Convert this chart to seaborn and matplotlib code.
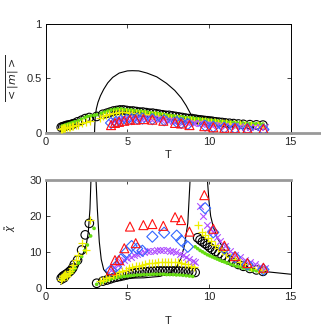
import numpy as np
import matplotlib
matplotlib.use("Agg")
import matplotlib.pyplot as plt
import seaborn as sns

# --- temperature grids ---
T_black = [0.95, 1.05, 1.15, 1.25, 1.35, 1.45, 1.55, 1.65, 1.75, 1.95, 2.2, 2.42, 2.67,
           3.12, 3.5, 3.75, 3.95, 4.15, 4.35, 4.55, 4.75, 4.95, 5.15, 5.35, 5.55, 5.75, 5.95,
           6.15, 6.35, 6.55, 6.75, 6.95, 7.15, 7.35, 7.55, 7.75, 7.95, 8.15, 8.35, 8.55, 8.75,
           8.95, 9.15,
           9.3, 9.45, 9.6, 9.75, 9.9, 10.05, 10.2, 10.4, 10.6, 10.8, 11.0, 11.25, 11.5, 11.8,
           12.1, 12.5, 12.9, 13.3]
chi_black = [2.8, 3.3, 3.6, 3.9, 4.2, 4.6, 5.0, 5.6, 6.6, 7.8, 10.6, 14.8, 18.0,
             1.4, 2.0, 2.3, 2.6, 2.9, 3.1, 3.3, 3.5, 3.7, 3.9, 4.1, 4.3, 4.4, 4.5,
             4.6, 4.7, 4.7, 4.8, 4.8, 4.8, 4.8, 4.8, 4.8, 4.8, 4.8, 4.7, 4.7, 4.6,
             4.5, 4.4,
             14.0, 13.4, 12.9, 12.4, 11.9, 11.3, 10.8, 10.2, 9.6, 9.0, 8.4, 7.8, 7.2, 6.6,
             6.1, 5.5, 5.1, 4.7]
m_black = [0.05, 0.055, 0.06, 0.065, 0.07, 0.07, 0.075, 0.08, 0.085, 0.1, 0.115, 0.13, 0.14,
           0.15, 0.17, 0.18, 0.19, 0.2, 0.205, 0.21, 0.21, 0.205, 0.2, 0.2, 0.195, 0.19, 0.19,
           0.185, 0.18, 0.18, 0.175, 0.17, 0.165, 0.16, 0.16, 0.155, 0.15, 0.145, 0.14, 0.135, 0.13,
           0.13, 0.125,
           0.12, 0.118, 0.115, 0.112, 0.11, 0.107, 0.105, 0.1, 0.097, 0.094, 0.09, 0.087, 0.084, 0.08,
           0.077, 0.074, 0.072, 0.07]

T_green = [1.0, 1.1, 1.2, 1.3, 1.4, 1.5, 1.6, 1.7, 1.8, 2.0, 2.2, 2.4, 2.55, 2.75, 2.96,
           3.12, 3.4, 3.6, 3.8, 4.0, 4.2, 4.4, 4.6, 4.8, 5.0, 5.2, 5.4, 5.6, 5.8, 6.0, 6.2,
           6.4, 6.6, 6.8, 7.0, 7.2, 7.4, 7.6, 7.8, 8.0, 8.2, 8.4, 8.6, 8.8, 9.0,
           9.15, 9.3, 9.45, 9.6, 9.75, 9.9, 10.05, 10.2, 10.35, 10.5, 10.65, 10.8, 10.95, 11.1,
           11.3, 11.5, 11.7, 11.9, 12.1, 12.3, 12.5, 12.7, 12.9, 13.1, 13.3]
chi_green = [2.5, 2.8, 3.1, 3.4, 3.7, 4.1, 4.5, 5.0, 5.6, 7.0, 8.8, 10.5, 12.0, 14.5, 16.6,
             1.1, 1.6, 2.0, 2.3, 2.6, 2.8, 3.0, 3.2, 3.3, 3.4, 3.5, 3.6, 3.7, 3.7, 3.8, 3.8,
             3.8, 3.9, 3.9, 3.9, 3.9, 3.8, 3.8, 3.8, 3.7, 3.7, 3.6, 3.5, 3.4, 3.3,
             11.5, 11.0, 10.5, 10.1, 9.7, 9.3, 9.0, 8.7, 8.4, 8.1, 7.8, 7.5, 7.3, 7.0,
             6.7, 6.4, 6.1, 5.9, 5.6, 5.4, 5.2, 5.0, 4.85, 4.7, 4.6]
m_green = [0.06, 0.065, 0.07, 0.075, 0.08, 0.085, 0.09, 0.095, 0.1, 0.11, 0.125, 0.14, 0.15, 0.155, 0.16,
           0.165, 0.18, 0.19, 0.2, 0.21, 0.215, 0.22, 0.22, 0.215, 0.21, 0.21, 0.205, 0.2, 0.2, 0.195, 0.19,
           0.185, 0.18, 0.18, 0.175, 0.17, 0.165, 0.16, 0.155, 0.15, 0.148, 0.145, 0.14, 0.137, 0.135,
           0.13, 0.128, 0.125, 0.122, 0.12, 0.117, 0.114, 0.112, 0.11, 0.107, 0.105, 0.102, 0.1, 0.098,
           0.096, 0.094, 0.092, 0.09, 0.088, 0.086, 0.084, 0.083, 0.082, 0.081, 0.08]

T_yellow = [0.95, 1.0, 1.05, 1.1, 1.15, 1.2, 1.3, 1.4, 1.5, 1.6, 1.7, 1.85, 2.0, 2.2, 2.45, 2.7,
            3.3, 3.5, 3.7, 3.9, 4.1, 4.3, 4.5, 4.7, 4.9, 5.1, 5.3, 5.5, 5.7, 5.9, 6.1, 6.3,
            6.5, 6.7, 6.9, 7.1, 7.3, 7.5, 7.7, 7.9, 8.1, 8.3, 8.5, 8.7, 8.9, 9.1,
            9.35, 9.55, 9.75, 9.95, 10.15, 10.35, 10.55, 10.8, 11.05, 11.3, 11.6, 11.9, 12.2,
            12.6, 13.0, 13.3]
chi_yellow = [2.2, 2.8, 3.3, 3.0, 3.6, 4.0, 3.5, 4.2, 4.8, 5.5, 6.4, 7.8, 9.2, 12.5, 10.6, 19.0,
              2.0, 2.4, 2.8, 3.2, 3.6, 4.0, 4.4, 4.8, 5.2, 5.5, 5.8, 6.1, 6.3, 6.5, 6.7, 6.9,
              7.0, 7.1, 7.2, 7.3, 7.4, 7.4, 7.4, 7.3, 7.2, 7.0, 6.8, 6.6, 6.3, 6.0,
              17.6, 15.7, 14.8, 13.9, 13.0, 12.1, 11.3, 10.4, 9.6, 8.8, 8.0, 7.3, 6.7,
              6.0, 5.4, 5.0]
m_yellow = [0.03, 0.035, 0.04, 0.04, 0.045, 0.045, 0.05, 0.05, 0.055, 0.06, 0.065, 0.07, 0.075, 0.085, 0.095, 0.11,
            0.14, 0.15, 0.16, 0.17, 0.18, 0.185, 0.19, 0.19, 0.19, 0.185, 0.18, 0.18, 0.175, 0.17, 0.17, 0.165,
            0.16, 0.16, 0.155, 0.15, 0.145, 0.14, 0.14, 0.135, 0.13, 0.125, 0.12, 0.118, 0.115, 0.112,
            0.11, 0.107, 0.104, 0.1, 0.097, 0.094, 0.091, 0.088, 0.085, 0.082, 0.079, 0.076, 0.073,
            0.07, 0.067, 0.065]

T_purple = [4.0, 4.2, 4.4, 4.6, 4.8, 5.0, 5.2, 5.4, 5.6, 5.8, 6.0, 6.2, 6.4, 6.6, 6.8, 7.0,
            7.2, 7.4, 7.6, 7.8, 8.0, 8.2, 8.4, 8.6, 8.8, 9.0, 9.15,
            9.45, 9.65, 9.85, 10.05, 10.27, 10.5, 10.7, 10.95, 11.3, 11.6, 11.9, 12.2, 12.5,
            12.8, 13.1, 13.4]
chi_purple = [5.2, 5.8, 6.5, 7.2, 7.9, 8.4, 8.8, 9.2, 9.5, 9.8, 10.0, 10.2, 10.3, 10.4, 10.5, 10.5,
              10.6, 10.5, 10.4, 10.2, 10.0, 9.6, 9.2, 8.7, 8.2, 7.6, 7.2,
              22.9, 20.0, 17.5, 16.8, 15.5, 14.2, 13.0, 11.8, 10.4, 9.3, 8.6, 7.9, 7.3,
              6.7, 6.1, 5.6]
m_purple = [0.1, 0.11, 0.12, 0.125, 0.13, 0.135, 0.138, 0.14, 0.14, 0.14, 0.14, 0.138, 0.135, 0.132, 0.13, 0.127,
            0.124, 0.12, 0.116, 0.112, 0.108, 0.104, 0.1, 0.096, 0.092, 0.09, 0.088,
            0.085, 0.082, 0.079, 0.076, 0.073, 0.07, 0.068, 0.066, 0.063, 0.06, 0.058, 0.056, 0.054,
            0.052, 0.05, 0.05]

T_blue = [4.0, 4.3, 4.6, 4.95, 5.26, 5.6, 5.92, 6.53, 7.25, 8.02, 8.3, 8.7,
          9.76, 10.26, 10.94, 11.59, 12.35, 13.33]
chi_blue = [5.0, 6.0, 8.0, 10.0, 11.7, 11.0, 10.4, 14.3, 15.4, 14.6, 13.2, 11.5,
            22.2, 15.5, 11.0, 8.6, 6.6, 5.2]
m_blue = [0.09, 0.1, 0.11, 0.12, 0.125, 0.13, 0.13, 0.125, 0.115, 0.1, 0.09, 0.08,
          0.065, 0.055, 0.045, 0.04, 0.035, 0.03]

T_red = [4.0, 4.24, 4.49, 4.81, 5.16, 5.51, 5.98, 6.53, 7.2, 7.92, 8.29, 8.8,
         9.71, 10.26, 10.94, 11.59, 12.35, 13.33]
chi_red = [5.0, 7.8, 7.8, 11.1, 17.1, 12.5, 17.5, 17.8, 17.3, 19.7, 18.9, 15.7,
           25.8, 16.5, 11.8, 8.9, 7.0, 5.7]
m_red = [0.07, 0.09, 0.1, 0.11, 0.12, 0.12, 0.125, 0.12, 0.11, 0.09, 0.085, 0.07,
         0.06, 0.05, 0.045, 0.04, 0.04, 0.035]

# --- mean-field curves ---
T_mf_m = [0.0, 2.99, 3.0, 3.03, 3.1, 3.2, 3.35, 3.55, 3.8, 4.1, 4.5, 5.0, 5.3, 5.7, 6.2,
          6.8, 7.4, 7.9, 8.3, 8.6, 8.85, 9.0]
m_mf = [0.0, 0.0, 0.05, 0.14, 0.22, 0.28, 0.34, 0.4, 0.46, 0.51, 0.55, 0.57, 0.572, 0.57, 0.55,
        0.515, 0.455, 0.39, 0.32, 0.25, 0.18, 0.13]

T_mf_chi_1 = [0.92, 1.29, 1.69, 2.0, 2.3, 2.5, 2.61, 2.71, 2.77, 2.8]
chi_mf_1 = [1.1, 2.0, 4.6, 6.5, 9.7, 12.5, 15.7, 22.0, 30.0, 40.0]
T_mf_chi_2 = [3.05, 3.08, 3.16, 3.28, 3.4, 3.55, 3.8, 4.2, 5.0, 6.0, 7.0, 7.6, 8.0, 8.3,
              8.5, 8.7, 8.84, 8.88]
chi_mf_2 = [40.0, 30.0, 22.0, 12.9, 8.0, 5.2, 3.8, 3.0, 2.8, 2.9, 3.3, 4.2, 5.8, 8.5,
            12.0, 18.0, 30.0, 40.0]
T_mf_chi_3 = [9.85, 9.9, 10.0, 10.1, 10.26, 10.5, 10.88, 11.3, 11.7, 12.5, 13.5, 15.0]
chi_mf_3 = [40.0, 30.0, 24.0, 20.0, 17.0, 14.0, 11.0, 8.7, 7.0, 5.6, 4.6, 3.9]

T_ticks = [0, 5, 10, 15]

sns.set_style("ticks")
plt.rcParams['font.family'] = ['Liberation Sans', 'DejaVu Sans']
plt.rcParams['mathtext.fontset'] = 'dejavusans'

fig = plt.figure(figsize=(3.21, 3.29), dpi=100)
ax_m = fig.add_axes([0.1424, 0.5967, 0.7632, 0.3295])
ax_c = fig.add_axes([0.1424, 0.1237, 0.7632, 0.3292])

series = [
    (T_black, m_black, chi_black, dict(marker='o', s=38, facecolors='none', edgecolors='black', linewidths=0.8)),
    (T_green, m_green, chi_green, dict(marker='o', s=7, color='#66dd11', edgecolor='none')),
    (T_yellow, m_yellow, chi_yellow, dict(marker='+', s=40, color='#eeee00', linewidths=0.9)),
    (T_purple, m_purple, chi_purple, dict(marker='x', s=22, color='#b050ff', linewidths=0.8)),
    (T_blue, m_blue, chi_blue, dict(marker='D', s=32, facecolors='none', edgecolors='#3366ff', linewidths=0.8)),
    (T_red, m_red, chi_red, dict(marker='^', s=42, facecolors='none', edgecolors='#ff1111', linewidths=0.8)),
]

for T, m, chi, style in series:
    sns.scatterplot(x=T, y=m, ax=ax_m, legend=False, zorder=3, **style)
    sns.scatterplot(x=T, y=chi, ax=ax_c, legend=False, zorder=3, **style)

sns.lineplot(x=T_mf_m, y=m_mf, ax=ax_m, sort=False, estimator=None, color='black', lw=0.8, zorder=2)
for Tb, cb in [(T_mf_chi_1, chi_mf_1), (T_mf_chi_2, chi_mf_2), (T_mf_chi_3, chi_mf_3)]:
    sns.lineplot(x=Tb, y=cb, ax=ax_c, sort=False, estimator=None, color='black', lw=0.8, zorder=2)

ax_m.set_xlim(0, 15)
ax_m.set_ylim(0, 1)
ax_m.set_yticks([0, 0.5, 1])
ax_m.set_yticklabels(['0', '0.5', '1'])
ax_c.set_xlim(0, 15)
ax_c.set_ylim(0, 30)
ax_c.set_yticks([0, 10, 20, 30])

for ax in (ax_m, ax_c):
    ax.set_xticks(T_ticks)
    ax.tick_params(direction='in', top=True, right=True, length=3, width=0.6,
                   labelsize=8, pad=3)
    for sp in ax.spines.values():
        sp.set_linewidth(0.7)
        sp.set_color('black')

ax_m.set_xlabel('T', fontsize=8, labelpad=2)
ax_c.set_xlabel('T', fontsize=8, labelpad=10)

ax_m.set_ylabel(r'$\overline{<|m|>}$', fontsize=8, labelpad=4)
ax_c.set_ylabel(r'$\tilde{\chi}$', fontsize=7)
ax_c.yaxis.set_label_coords(-0.115, 0.56)

# gray frame edges as in the original export
ax_m.spines['bottom'].set_color('#999999')
ax_m.spines['bottom'].set_linewidth(2.0)
ax_m.axhline(0, xmin=1.0, xmax=1.14, color='#999999', lw=2.0, clip_on=False, zorder=1)
ax_c.spines['top'].set_color('#999999')
ax_c.spines['top'].set_linewidth(2.0)

fig.savefig('out.png', dpi=100)
